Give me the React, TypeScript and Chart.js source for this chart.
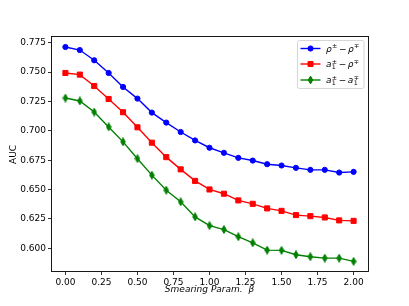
import React, { useEffect, useRef } from "react";
import { Chart, registerables } from "chart.js";

Chart.register(...registerables);

const betaValues = [0, 0.1, 0.2, 0.3, 0.4, 0.5, 0.6, 0.7, 0.8, 0.9, 1.0, 1.1, 1.2, 1.3, 1.4, 1.5, 1.6, 1.7, 1.8, 1.9, 2.0];
const aucRhoRho = [0.7713, 0.7687, 0.7600, 0.7492, 0.7373, 0.7274, 0.7155, 0.7070, 0.6990, 0.6918, 0.6856, 0.6813, 0.6770, 0.6747, 0.6716, 0.6705, 0.6685, 0.6668, 0.6668, 0.6645, 0.6651];
const aucA1Rho = [0.7492, 0.7478, 0.7381, 0.7271, 0.7158, 0.7030, 0.6899, 0.6776, 0.6672, 0.6574, 0.6501, 0.6465, 0.6408, 0.6379, 0.6340, 0.6319, 0.6283, 0.6274, 0.6263, 0.6238, 0.6234];
const aucA1A1 = [0.7279, 0.7254, 0.7160, 0.7033, 0.6906, 0.6763, 0.6623, 0.6495, 0.6396, 0.6268, 0.6194, 0.6160, 0.6099, 0.6047, 0.5985, 0.5983, 0.5946, 0.5929, 0.5917, 0.5917, 0.5889];
const xTickValues = [0, 0.25, 0.5, 0.75, 1.0, 1.25, 1.5, 1.75, 2.0];
const yTickValues = [0.6, 0.625, 0.65, 0.675, 0.7, 0.725, 0.75, 0.775];
const seriesColors = ["#0000ff", "#ff0000", "#008000"];
const xLabel = "Smearing Param.  β";
const yLabel = "AUC";

const FONT = "'DejaVu Sans', sans-serif";

function makeDiamond(color: string) {
  const c = document.createElement("canvas");
  c.width = 6;
  c.height = 9;
  const ctx = c.getContext("2d")!;
  ctx.fillStyle = color;
  ctx.strokeStyle = color;
  ctx.lineWidth = 1;
  ctx.beginPath();
  ctx.moveTo(3, 0.6);
  ctx.lineTo(5.3, 4.5);
  ctx.lineTo(3, 8.4);
  ctx.lineTo(0.7, 4.5);
  ctx.closePath();
  ctx.fill();
  ctx.stroke();
  return c;
}

type Piece = { t: string; italic?: boolean; sup?: string; sub?: string };

const legendItems: { color: string; marker: string; pieces: Piece[] }[] = [
  { color: seriesColors[0], marker: "circle", pieces: [{ t: "ρ", italic: true, sup: "±" }, { t: " − " }, { t: "ρ", italic: true, sup: "∓" }] },
  { color: seriesColors[1], marker: "rect", pieces: [{ t: "a", italic: true, sup: "±", sub: "1" }, { t: " − " }, { t: "ρ", italic: true, sup: "∓" }] },
  { color: seriesColors[2], marker: "diamond", pieces: [{ t: "a", italic: true, sup: "±", sub: "1" }, { t: " − " }, { t: "a", italic: true, sup: "∓", sub: "1" }] },
];

function drawMarker(ctx: CanvasRenderingContext2D, kind: string, x: number, y: number, color: string) {
  ctx.save();
  ctx.fillStyle = color;
  ctx.strokeStyle = color;
  ctx.lineWidth = 1;
  ctx.beginPath();
  if (kind === "circle") {
    ctx.arc(x, y, 2.6, 0, Math.PI * 2);
  } else if (kind === "rect") {
    ctx.rect(x - 2.5, y - 2.5, 5, 5);
  } else {
    ctx.moveTo(x, y - 3.9);
    ctx.lineTo(x + 2.3, y);
    ctx.lineTo(x, y + 3.9);
    ctx.lineTo(x - 2.3, y);
    ctx.closePath();
  }
  ctx.fill();
  ctx.stroke();
  ctx.restore();
}

const legendPlugin = {
  id: "mplLegend",
  afterDraw(chart: any) {
    const ctx: CanvasRenderingContext2D = chart.ctx;
    const bx = 297.5, by = 40.5, bw = 66.5, bh = 48;
    ctx.save();
    ctx.beginPath();
    const r = 2;
    ctx.moveTo(bx + r, by);
    ctx.lineTo(bx + bw - r, by);
    ctx.quadraticCurveTo(bx + bw, by, bx + bw, by + r);
    ctx.lineTo(bx + bw, by + bh - r);
    ctx.quadraticCurveTo(bx + bw, by + bh, bx + bw - r, by + bh);
    ctx.lineTo(bx + r, by + bh);
    ctx.quadraticCurveTo(bx, by + bh, bx, by + bh - r);
    ctx.lineTo(bx, by + r);
    ctx.quadraticCurveTo(bx, by, bx + r, by);
    ctx.closePath();
    ctx.fillStyle = "rgba(255,255,255,0.8)";
    ctx.fill();
    ctx.strokeStyle = "#cccccc";
    ctx.lineWidth = 0.8;
    ctx.stroke();

    const rows = [48.5, 64, 80];
    legendItems.forEach((item, i) => {
      const y = rows[i];
      ctx.strokeStyle = item.color;
      ctx.lineWidth = 1.4;
      ctx.beginPath();
      ctx.moveTo(300.5, y);
      ctx.lineTo(320.5, y);
      ctx.stroke();
      drawMarker(ctx, item.marker, 310.5, y, item.color);

      let x = 326;
      const base = y + 3.2;
      ctx.fillStyle = "#000";
      ctx.textBaseline = "alphabetic";
      ctx.textAlign = "left";
      item.pieces.forEach((p) => {
        ctx.font = (p.italic ? "italic " : "") + "9px " + FONT;
        if (p.t === " − ") {
          x += 1.6;
          ctx.font = "9px " + FONT;
          ctx.fillText("−", x, base);
          x += ctx.measureText("−").width + 1.6;
          return;
        }
        ctx.fillText(p.t, x, base);
        x += ctx.measureText(p.t).width;
        let w = 0;
        ctx.font = "6.3px " + FONT;
        if (p.sup) {
          ctx.fillText(p.sup, x + 0.3, base - 3.6);
          w = Math.max(w, ctx.measureText(p.sup).width);
        }
        if (p.sub) {
          ctx.fillText(p.sub, x + 0.3, base + 2.2);
          w = Math.max(w, ctx.measureText(p.sub).width);
        }
        x += w + 0.3;
      });
    });
    ctx.restore();
  },
};

const framePlugin = {
  id: "frame",
  afterDatasetsDraw(chart: any) {
    const ctx: CanvasRenderingContext2D = chart.ctx;
    const a = chart.chartArea;
    ctx.save();
    ctx.strokeStyle = "#000";
    ctx.lineWidth = 0.9;
    const l = Math.round(a.left) + 0.5;
    const t = Math.round(a.top) - 0.5;
    const rr = Math.round(a.right) + 0.5;
    const b = Math.round(a.bottom) - 0.5;
    ctx.strokeRect(l, t, rr - l, b - t);
    ctx.restore();
  },
};

export default function App() {
  const ref = useRef<HTMLCanvasElement | null>(null);
  useEffect(() => {
    document.body.style.margin = "0";
    const diamond = makeDiamond(seriesColors[2]);
    const mk = (vals: number[]) => betaValues.map((b, i) => ({ x: b, y: vals[i] }));
    const common = { borderWidth: 1.4, pointBorderWidth: 1, fill: false, tension: 0 };
    const chart = new Chart(ref.current!, {
      type: "line",
      data: {
        datasets: [
          { ...common, data: mk(aucRhoRho), borderColor: seriesColors[0], backgroundColor: seriesColors[0], pointBorderColor: seriesColors[0], pointBackgroundColor: seriesColors[0], pointStyle: "circle", pointRadius: 2.6 },
          { ...common, data: mk(aucA1Rho), borderColor: seriesColors[1], backgroundColor: seriesColors[1], pointBorderColor: seriesColors[1], pointBackgroundColor: seriesColors[1], pointStyle: "rect", pointRadius: 3.6 },
          { ...common, data: mk(aucA1A1), borderColor: seriesColors[2], backgroundColor: seriesColors[2], pointStyle: diamond as any, pointRadius: 4 },
        ],
      },
      options: {
        responsive: false,
        animation: false,
        devicePixelRatio: 1,
        events: [],
        layout: { padding: { left: 0, right: 41, top: 37, bottom: 0 } },
        plugins: { legend: { display: false }, tooltip: { enabled: false } },
        scales: {
          x: {
            type: "linear",
            min: -0.1,
            max: 2.1,
            afterBuildTicks: (s: any) => { s.ticks = xTickValues.map((v) => ({ value: v })); },
            afterFit: (s: any) => { s.height = 34; },
            border: { display: false },
            grid: { display: true, drawOnChartArea: false, drawTicks: true, tickLength: 3, color: "#000", lineWidth: 0.8 },
            ticks: { color: "#000", font: { family: FONT, size: 9 }, padding: 2, maxRotation: 0, autoSkip: false, callback: (v: any) => Number(v).toFixed(2) },
            title: { display: true, text: xLabel, color: "#000", font: { family: FONT, size: 9, style: "italic" }, padding: { top: 0, bottom: 10.5 } },
          },
          y: {
            type: "linear",
            min: 0.5799,
            max: 0.7798,
            afterBuildTicks: (s: any) => { s.ticks = yTickValues.map((v) => ({ value: v })); },
            afterFit: (s: any) => { s.width = 51; },
            border: { display: false },
            grid: { display: true, drawOnChartArea: false, drawTicks: true, tickLength: 3, color: "#000", lineWidth: 0.8 },
            ticks: { color: "#000", font: { family: FONT, size: 9 }, padding: 2, autoSkip: false, callback: (v: any) => Number(v).toFixed(3) },
            title: { display: true, text: yLabel, color: "#000", font: { family: FONT, size: 9 }, padding: { top: 8.6, bottom: 0 } },
          },
        },
      },
      plugins: [framePlugin, legendPlugin],
    } as any);
    return () => chart.destroy();
  }, []);
  return <canvas ref={ref} width={409} height={306} style={{ display: "block" }} />;
}
